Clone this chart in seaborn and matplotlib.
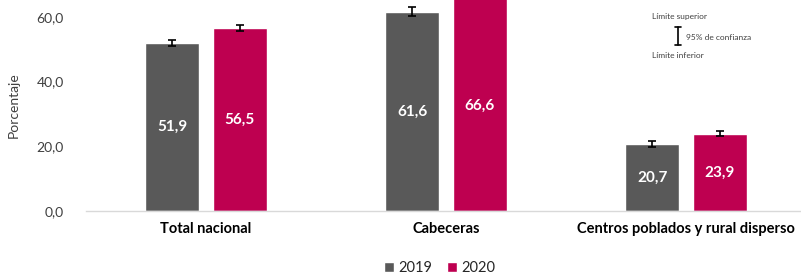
import matplotlib
matplotlib.use("Agg")
import matplotlib.pyplot as plt
import seaborn as sns
import pandas as pd
from matplotlib.patches import Patch

categories = ["Total nacional", "Cabeceras", "Centros poblados y rural disperso"]
years = ["2019", "2020"]
values_2019 = [51.9, 61.6, 20.7]
values_2020 = [56.5, 66.6, 23.9]
err_2019 = [1.05, 1.4, 1.0]
err_2020 = [0.9, 1.0, 0.7]
colors = ["#595959", "#BE0050"]

df = pd.DataFrame({
    "Categoria": categories * 2,
    "Año": [years[0]] * 3 + [years[1]] * 3,
    "Porcentaje": values_2019 + values_2020,
})
errs = [err_2019, err_2020]

sns.set_theme(style="white")
plt.rcParams["font.family"] = ["Lato", "DejaVu Sans"]

fig = plt.figure(figsize=(8.01, 2.78), dpi=100)
ax = fig.add_axes([86 / 801, 67 / 278, 720 / 801, 211 / 278])

sns.barplot(data=df, x="Categoria", y="Porcentaje", hue="Año", palette=colors,
            width=0.5625, gap=0.2, errorbar=None, ax=ax, legend=False,
            saturation=1)

for cont, e, yr in zip(ax.containers, errs, years):
    xs = [b.get_x() + b.get_width() / 2 for b in cont]
    ys = [b.get_height() for b in cont]
    ax.errorbar(xs, ys, yerr=e, fmt="none", ecolor="black", elinewidth=1.2,
                capsize=3, capthick=1.2, zorder=5)
    ax.bar_label(cont, labels=[f"{v:.1f}".replace(".", ",") for v in ys],
                 label_type="center", color="white", fontweight="bold",
                 fontsize=11)

ax.set_ylim(0, 65.2)
ax.set_xlim(-0.5, 2.5)
ax.set_yticks([0, 20, 40, 60])
ax.set_yticklabels(["0,0", "20,0", "40,0", "60,0"], fontsize=10, color="#404040")
ax.set_xlabel("")
ax.set_ylabel("Porcentaje", fontsize=10, color="#404040", labelpad=12)
ax.tick_params(axis="x", length=0, pad=8)
ax.tick_params(axis="y", length=0, pad=16)
for lab in ax.get_xticklabels():
    lab.set_fontweight("bold")
    lab.set_fontsize(10.5)
    lab.set_color("black")
for s in ["top", "right", "left"]:
    ax.spines[s].set_visible(False)
ax.spines["bottom"].set_color("#D9D9D9")
ax.spines["bottom"].set_linewidth(1)

handles = [Patch(facecolor=c, label=y) for c, y in zip(colors, years)]
fig.legend(handles=handles, loc="center", bbox_to_anchor=(440 / 801, 1 - 268 / 278),
           ncol=2, frameon=False, fontsize=10.5, handlelength=0.7, handleheight=0.7,
           handletextpad=0.3, columnspacing=1.0)

# confidence annotation
fig.text(680 / 801, 1 - 17 / 278, "Límite superior", fontsize=6, ha="center",
         va="center", color="#404040")
fig.text(678 / 801, 1 - 56 / 278, "Límite inferior", fontsize=6, ha="center",
         va="center", color="#404040")
fig.text(686 / 801, 1 - 37 / 278, "95% de confianza", fontsize=6, ha="left",
         va="center", color="#404040")
fig.add_artist(plt.Line2D([678 / 801, 678 / 801], [1 - 27 / 278, 1 - 45 / 278],
                          color="black", lw=1.2))
for yy in (27, 45):
    fig.add_artist(plt.Line2D([675 / 801, 681 / 801], [1 - yy / 278, 1 - yy / 278],
                              color="black", lw=1.2))

fig.savefig("out.png", dpi=100)
